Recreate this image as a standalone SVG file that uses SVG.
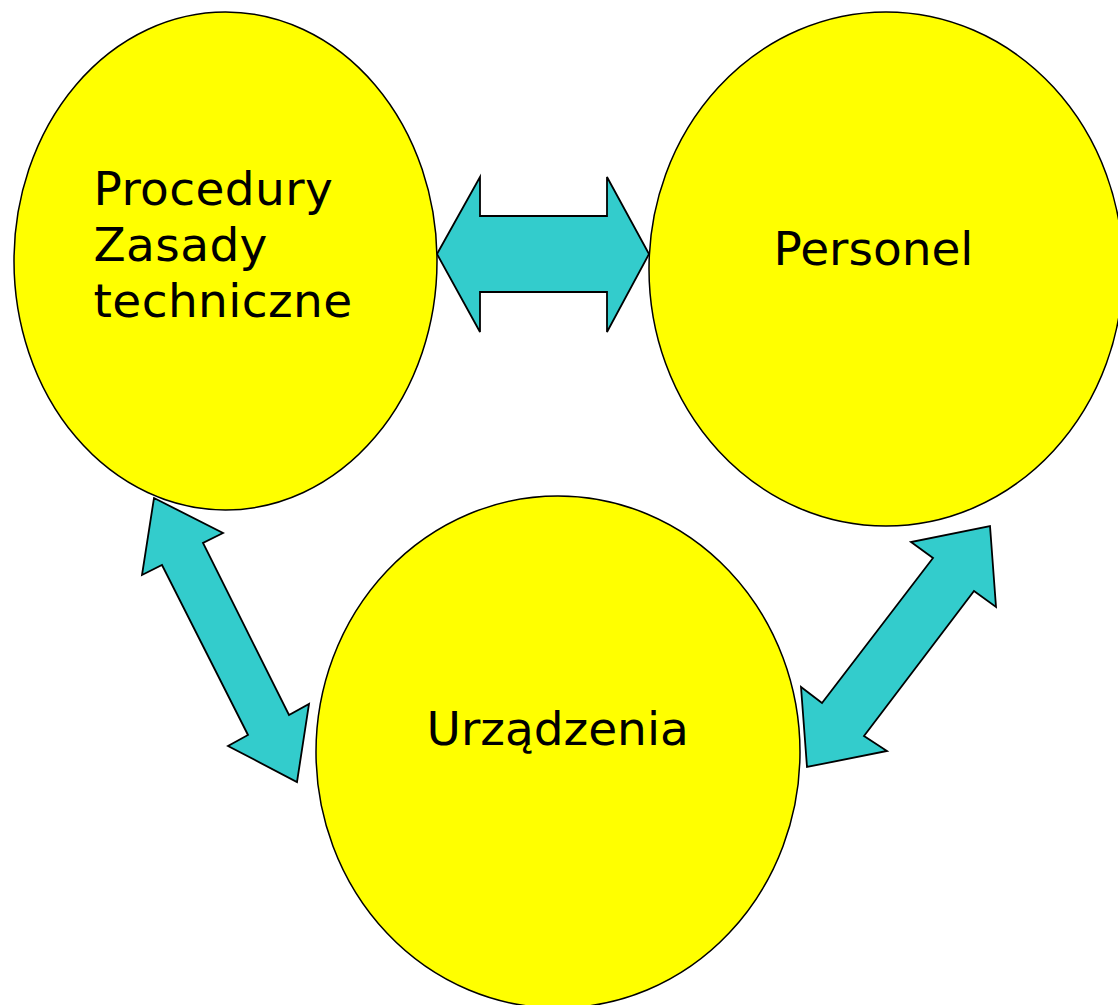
<svg xmlns="http://www.w3.org/2000/svg" width="1118" height="1005" viewBox="0 0 1118 1005">
  <style>
    .node { fill: #FFFF00; stroke: #000000; stroke-width: 1.5; }
    .arrow { fill: #33CCCC; stroke: #000000; stroke-width: 1.8; stroke-linejoin: miter; }
    .label { font-family: "DejaVu Sans", Verdana, sans-serif; font-size: 47px; fill: #000000; }
  </style>
  <rect x="0" y="0" width="1118" height="1005" fill="#FFFFFF"/>
  <g id="connectors">
    <polygon id="arrow-procedury-personel" class="arrow" points="437,254 480,177 480,216 607,216 607,177 649,254 607,332 607,292 480,292 480,332"/>
    <polygon id="arrow-procedury-urzadzenia" class="arrow" points="154,498 223,533 203,543 289,715 309,704 297,782 228,746 248,735 162,565 142,575"/>
    <polygon id="arrow-personel-urzadzenia" class="arrow" points="990,526 996,607 974,591 864,736 887,751 807,767 801,687 822,703 933,558 911,542"/>
  </g>
  <g id="node-procedury">
    <ellipse class="node" cx="225.5" cy="261" rx="211.5" ry="249"/>
    <text class="label" x="93.5" y="205" letter-spacing="0.4">Procedury</text>
    <text class="label" x="93.5" y="261" letter-spacing="0.4">Zasady</text>
    <text class="label" x="93.5" y="317" letter-spacing="0.4">techniczne</text>
  </g>
  <g id="node-personel">
    <ellipse class="node" cx="886" cy="269" rx="237" ry="257"/>
    <text class="label" x="773.5" y="265">Personel</text>
  </g>
  <g id="node-urzadzenia">
    <ellipse class="node" cx="558" cy="752" rx="242" ry="256"/>
    <text class="label" x="426.5" y="745">Urządzenia</text>
  </g>
</svg>
